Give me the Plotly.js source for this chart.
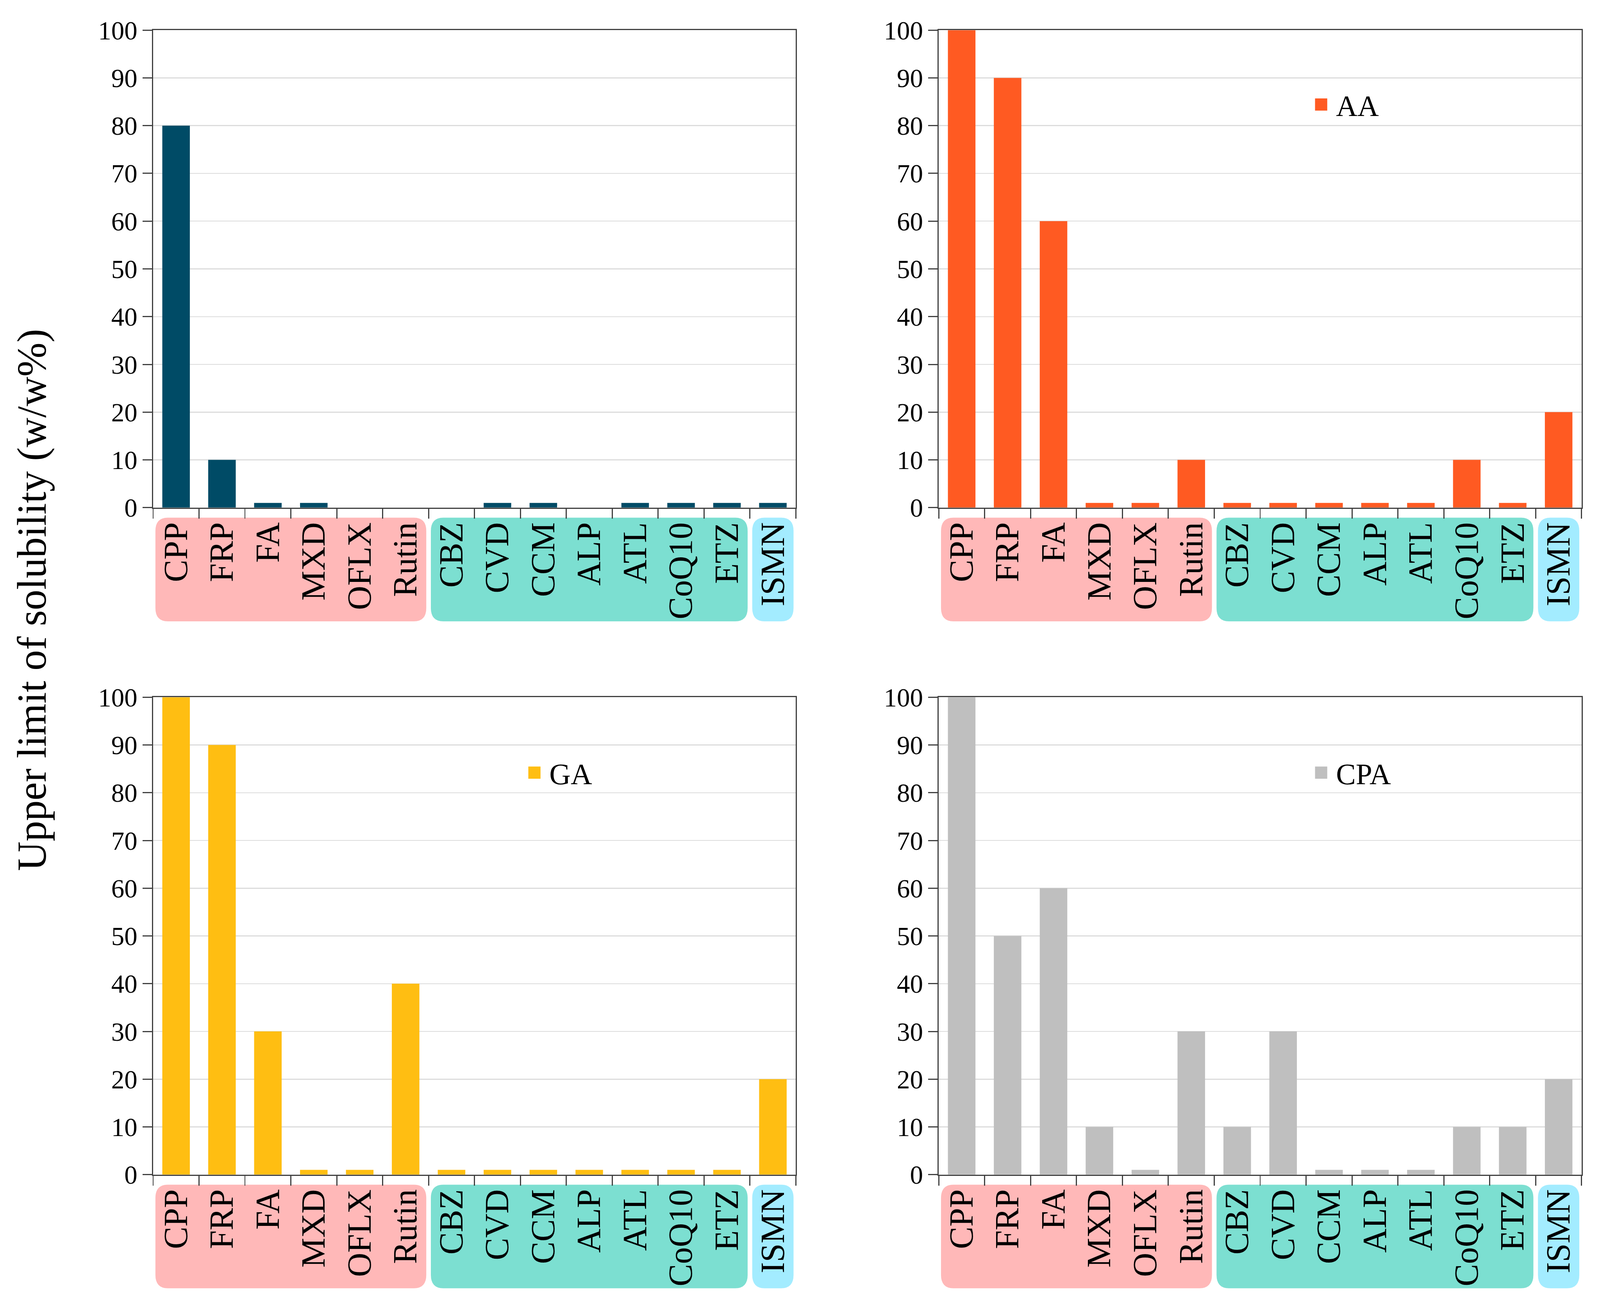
<!DOCTYPE html>
<html>
<head>
<meta charset="utf-8">
<script src="https://cdn.plot.ly/plotly-3.0.1.min.js"></script>
<style>
  html, body { margin: 0; padding: 0; background: #fff; overflow: hidden; }
  #chart { width: 100vw; height: 100vh; }
</style>
</head>
<body>
<div id="chart"></div>
<script>
// drugs on the x axis
let drugs = ["CPP", "FRP", "FA", "MXD", "OFLX", "Rutin", "CBZ", "CVD", "CCM", "ALP", "ATL", "CoQ10", "ETZ", "ISMN"];

// upper limit of solubility (w/w%) per acid
let TA  = [80, 10, 1, 1, 0, 0, 0, 1, 1, 0, 1, 1, 1, 1];
let AA  = [100, 90, 60, 1, 1, 10, 1, 1, 1, 1, 1, 10, 1, 20];
let GA  = [100, 90, 30, 1, 1, 40, 1, 1, 1, 1, 1, 1, 1, 20];
let CPA = [100, 50, 60, 10, 1, 30, 10, 30, 1, 1, 1, 10, 10, 20];

// drug groups (first and last drug of each coloured box)
let groupFirst = ["CPP", "CBZ", "ISMN"];
let groupLast  = ["Rutin", "ETZ", "ISMN"];

let yTicks = [0, 10, 20, 30, 40, 50, 60, 70, 80, 90, 100];

// styles
let serif = "Liberation Serif, Times New Roman, serif";
let barColors = ["#004b66", "#ff5a22", "#ffbe12", "#bfbfbf"];
let boxColors = ["#ffb8b8", "#7cdfd1", "#a3ecff"];

let series = [
  { name: "TA", y: TA },
  { name: "AA", y: AA },
  { name: "GA", y: GA },
  { name: "CPA", y: CPA },
];

// sizes are given for a 4325px wide page; the browser may clamp the width,
// so horizontal sizes follow the real viewport width
let W = window.innerWidth || 4325;
let H = window.innerHeight || 3339;
let k = W / 4325;

// panel placement
let xDom = [[0.0957, 0.4974], [0.5867, 0.9885], [0.0957, 0.4974], [0.5867, 0.9885]];
let yDom = [[0.6107, 0.9769], [0.6107, 0.9769], [0.0992, 0.4653], [0.0992, 0.4653]];
let legPos = [[0.398, 0.9215], [0.8164, 0.9198], [0.3247, 0.4074], [0.8164, 0.4074]];

let data = [];
let layout = {
  width: W,
  height: H,
  margin: { l: 0, r: 0, t: 0, b: 0 },
  paper_bgcolor: "#ffffff",
  plot_bgcolor: "#ffffff",
  font: { family: serif, color: "#000000" },
  bargap: 0.4,
  shapes: [],
  annotations: [
    {
      text: "Upper limit of solubility (w/w%)",
      xref: "paper",
      yref: "paper",
      x: 0.0201,
      y: 0.54,
      xanchor: "center",
      yanchor: "middle",
      textangle: -90,
      showarrow: false,
      font: { family: serif, size: 105, color: "#000000" },
    },
  ],
};

// rounded box below the axis, in category units (x) and axis domain (y)
function roundedBox(x0, x1, y0, y1, rx, ry) {
  return (
    "M " + (x0 + rx) + " " + y0 +
    " L " + (x1 - rx) + " " + y0 +
    " Q " + x1 + " " + y0 + " " + x1 + " " + (y0 - ry) +
    " L " + x1 + " " + (y1 + ry) +
    " Q " + x1 + " " + y1 + " " + (x1 - rx) + " " + y1 +
    " L " + (x0 + rx) + " " + y1 +
    " Q " + x0 + " " + y1 + " " + x0 + " " + (y1 + ry) +
    " L " + x0 + " " + (y0 - ry) +
    " Q " + x0 + " " + y0 + " " + (x0 + rx) + " " + y0 + " Z"
  );
}

series.forEach(function (s, i) {
  let n = i === 0 ? "" : String(i + 1);
  data.push({
    type: "bar",
    x: drugs,
    y: s.y,
    name: s.name,
    xaxis: "x" + n,
    yaxis: "y" + n,
    legend: "legend" + n,
    marker: { color: barColors[i], line: { width: 0 } },
  });

  layout["xaxis" + n] = {
    domain: xDom[i],
    anchor: "y" + n,
    type: "category",
    showline: true,
    linecolor: "#404040",
    linewidth: 3.3 * k,
    mirror: true,
    ticks: "outside",
    tickson: "boundaries",
    ticklen: 25,
    tickwidth: 3 * k,
    tickcolor: "#404040",
    tickangle: -90,
    tickfont: { family: serif, size: 86, color: "#000000" },
    showgrid: false,
    zeroline: false,
    fixedrange: true,
  };
  layout["yaxis" + n] = {
    domain: yDom[i],
    anchor: "x" + n,
    range: [0, 100],
    tickvals: yTicks,
    ticklabelstandoff: 38 * k,
    showline: true,
    linecolor: "#404040",
    linewidth: 3.3 * k,
    mirror: true,
    ticks: "outside",
    ticklen: 25 * k,
    tickwidth: 3,
    tickcolor: "#404040",
    tickfont: { family: serif, size: 67, color: "#000000" },
    showgrid: true,
    gridcolor: "#dcdcdc",
    gridwidth: 2.5,
    zeroline: false,
    fixedrange: true,
  };
  layout["legend" + n] = {
    x: legPos[i][0],
    y: legPos[i][1],
    xanchor: "left",
    yanchor: "middle",
    bgcolor: "rgba(0,0,0,0)",
    itemwidth: Math.max(30, 70 * k),
    font: { family: serif, size: 80 * k, color: "#000000" },
  };

  groupFirst.forEach(function (first, g) {
    let a = drugs.indexOf(first);
    let b = drugs.indexOf(groupLast[g]);
    layout.shapes.push({
      type: "path",
      xref: "x" + n,
      yref: "y" + n + " domain",
      path: roundedBox(a - 0.45, b + 0.45, -0.021, -0.238, 0.27, 0.028),
      fillcolor: boxColors[g],
      line: { width: 0 },
      layer: "below",
    });
  });
});

Plotly.newPlot("chart", data, layout, { displayModeBar: false, staticPlot: true }).then(function (gd) {
  // bar legend swatches are a fixed 12px square; enlarge them to match the font
  let h = 16.5 * k;
  gd.querySelectorAll(".legendpoints path").forEach(function (p) {
    p.setAttribute("d", "M" + h + "," + h + "H" + -h + "V" + -h + "H" + h + "Z");
  });
});
</script>
</body>
</html>
